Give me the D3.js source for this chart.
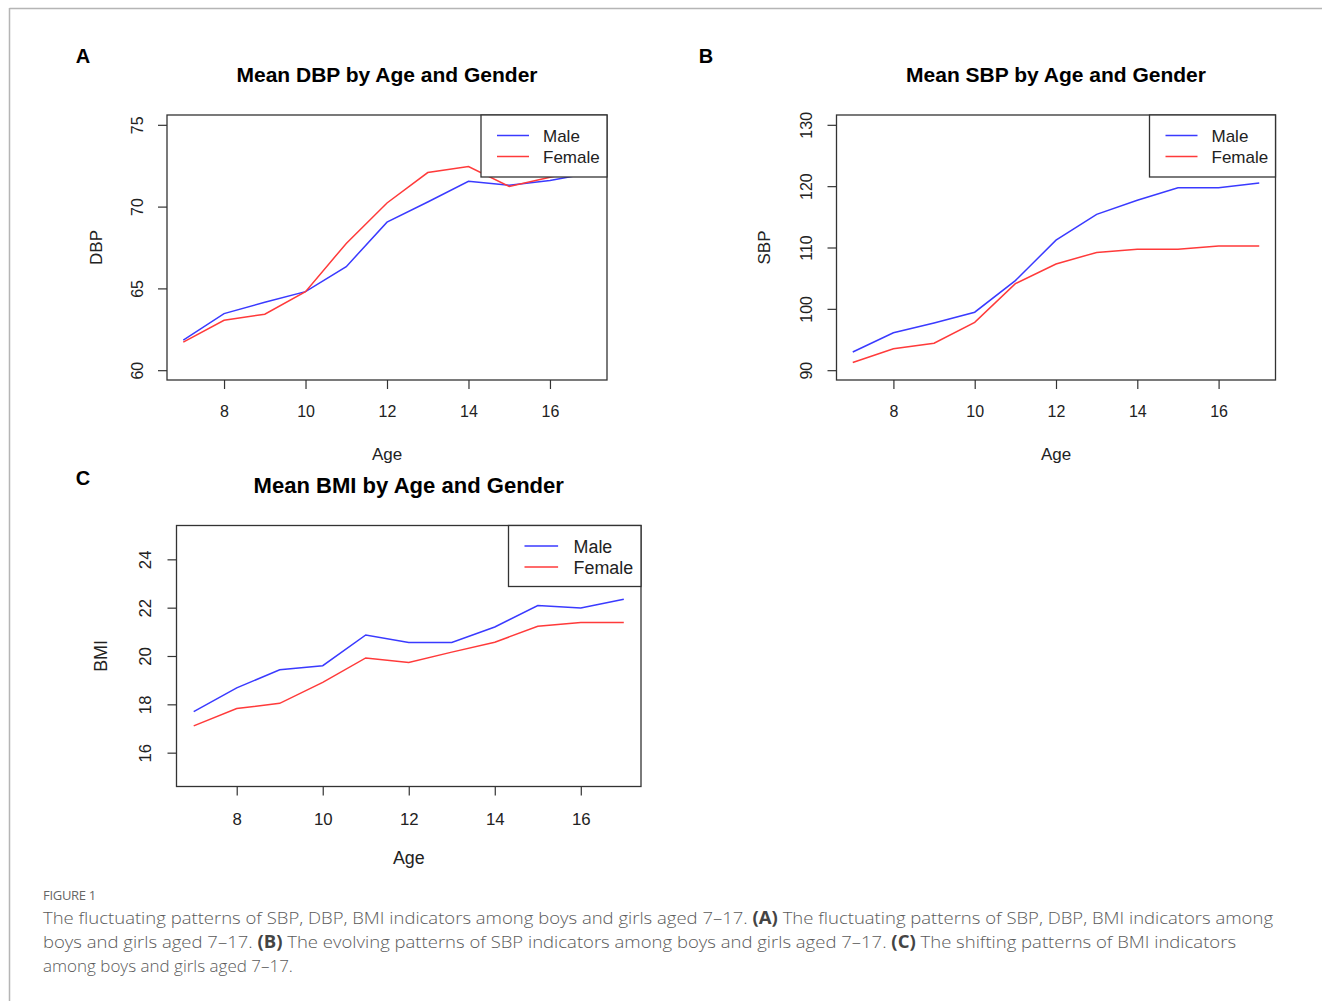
<!DOCTYPE html>
<html><head><meta charset="utf-8">
<script src="https://cdn.jsdelivr.net/npm/d3@7"></script>
<style>
html,body{margin:0;padding:0;background:#fff;}
svg{display:block;}
</style></head>
<body>
<svg id="fig" width="1322" height="1001"></svg>
<script>
// ---------- data ----------
const ages = [7, 8, 9, 10, 11, 12, 13, 14, 15, 16, 17];
const xTicks = [8, 10, 12, 14, 16];

const dbpMale   = [61.84, 63.46, 64.15, 64.80, 66.33, 69.05, 70.28, 71.55, 71.30, 71.60, 72.05];
const dbpFemale = [61.72, 63.05, 63.42, 64.80, 67.75, 70.22, 72.08, 72.45, 71.23, 71.80, 72.30];
const dbpTicks  = [60, 65, 70, 75];

const sbpMale   = [92.97, 96.10, 97.70, 99.45, 104.6, 111.2, 115.4, 117.7, 119.75, 119.75, 120.5];
const sbpFemale = [91.25, 93.50, 94.40, 97.80, 104.1, 107.3, 109.2, 109.7, 109.7, 110.25, 110.25];
const sbpTicks  = [90, 100, 110, 120, 130];

const bmiMale   = [17.70, 18.68, 19.43, 19.60, 20.87, 20.56, 20.56, 21.20, 22.09, 21.99, 22.35];
const bmiFemale = [17.11, 17.83, 18.04, 18.91, 19.92, 19.73, 20.16, 20.57, 21.23, 21.39, 21.39];
const bmiTicks  = [16, 18, 20, 22, 24];

const seriesNames = ["Male", "Female"];
const seriesColors = ["#3a3aff", "#ff3a3a"];

const captionHead = "FIGURE 1";
const captionLines = [
  [["The fluctuating patterns of SBP, DBP, BMI indicators among boys and girls aged 7\u201317. ", false], ["(A)", true], [" The fluctuating patterns of SBP, DBP, BMI indicators among", false]],
  [["boys and girls aged 7\u201317. ", false], ["(B)", true], [" The evolving patterns of SBP indicators among boys and girls aged 7\u201317. ", false], ["(C)", true], [" The shifting patterns of BMI indicators", false]],
  [["among boys and girls aged 7\u201317.", false]]
];

// ---------- drawing ----------
const svg = d3.select("#fig");
const F = "'Liberation Sans', Arial, sans-serif";

// outer frame
svg.append("line").attr("x1", 9.5).attr("x2", 1322).attr("y1", 8.5).attr("y2", 8.5)
  .attr("stroke", "#b5b5b5").attr("stroke-width", 1.5);
svg.append("line").attr("x1", 9.5).attr("x2", 9.5).attr("y1", 8).attr("y2", 1001)
  .attr("stroke", "#b5b5b5").attr("stroke-width", 1.5);

function panel(cfg) {
  const g = svg.append("g");
  const s = cfg.scale || 1;
  const {L, T, R, B} = cfg.box;
  const x = d3.scaleLinear().domain([6.6, 17.4]).range([L, R]);
  const y = d3.scaleLinear().domain(cfg.yDomain).range([B, T]);

  // panel letter
  g.append("text").attr("x", cfg.letterPos[0]).attr("y", cfg.letterPos[1])
    .attr("font-family", F).attr("font-weight", "bold").attr("font-size", 20)
    .attr("text-anchor", "middle").attr("dominant-baseline", "central").text(cfg.letter);
  // title
  g.append("text").attr("x", (L + R) / 2).attr("y", T - cfg.titleOff)
    .attr("font-family", F).attr("font-weight", "bold").attr("font-size", 21 * s)
    .attr("text-anchor", "middle").attr("dominant-baseline", "central").text(cfg.title);

  // lines
  const line = d3.line().x((d, i) => x(ages[i])).y(d => y(d));
  cfg.series.forEach((sr, k) => {
    g.append("path").datum(sr).attr("d", line).attr("fill", "none")
      .attr("stroke", seriesColors[k]).attr("stroke-width", 1.5);
  });

  // axes
  const xa = d3.axisBottom(x).tickValues(xTicks).tickSize(9).tickPadding(17 * s).tickFormat(d3.format("d"));
  const gx = g.append("g").attr("transform", `translate(0,${B})`).call(xa);
  gx.select(".domain").attr("stroke", "none");
  gx.selectAll(".tick line").attr("stroke", "#333").attr("stroke-width", 1.2);
  gx.selectAll(".tick text").attr("font-family", F).attr("font-size", 16 * s).attr("fill", "#222");

  const ya = d3.axisLeft(y).tickValues(cfg.yTicks).tickSize(9).tickFormat(d3.format("d"));
  const gy = g.append("g").attr("transform", `translate(${L},0)`).call(ya);
  gy.select(".domain").attr("stroke", "none");
  gy.selectAll(".tick line").attr("stroke", "#333").attr("stroke-width", 1.2);
  gy.selectAll(".tick text").attr("font-family", F).attr("font-size", 16 * s).attr("fill", "#222")
    .attr("x", null).attr("dy", null)
    .attr("text-anchor", "middle").attr("dominant-baseline", "central")
    .attr("transform", `translate(${-30 * s},0) rotate(-90)`);

  // box
  g.append("rect").attr("x", L).attr("y", T).attr("width", R - L).attr("height", B - T)
    .attr("fill", "none").attr("stroke", "#333").attr("stroke-width", 1.3);

  // axis labels
  g.append("text").attr("x", (L + R) / 2).attr("y", B + cfg.xlabOff)
    .attr("font-family", F).attr("font-size", 17 * s).attr("fill", "#222")
    .attr("text-anchor", "middle").attr("dominant-baseline", "central").text("Age");
  g.append("text").attr("transform", `translate(${L - cfg.ylabOff},${(T + B) / 2}) rotate(-90)`)
    .attr("font-family", F).attr("font-size", 17 * s).attr("fill", "#222")
    .attr("text-anchor", "middle").attr("dominant-baseline", "central").text(cfg.ylab);

  // legend
  const lg = cfg.legend;
  g.append("rect").attr("x", lg.x).attr("y", T).attr("width", R - lg.x).attr("height", lg.h)
    .attr("fill", "#fff").attr("stroke", "#333").attr("stroke-width", 1.3);
  seriesNames.forEach((n, k) => {
    const yy = T + 20.5 + k * 21;
    g.append("line").attr("x1", lg.x + 16).attr("x2", lg.x + 16 + 32 * s).attr("y1", yy).attr("y2", yy)
      .attr("stroke", seriesColors[k]).attr("stroke-width", 1.5);
    g.append("text").attr("x", lg.x + 62 * s).attr("y", yy + 1)
      .attr("font-family", F).attr("font-size", 17 * s).attr("fill", "#222")
      .attr("dominant-baseline", "central").text(n);
  });
}

panel({
  box: {L: 167, T: 115, R: 607, B: 380}, yDomain: [59.4, 75.6], yTicks: dbpTicks,
  series: [dbpMale, dbpFemale], title: "Mean DBP by Age and Gender", titleOff: 41,
  letter: "A", letterPos: [83, 56], ylab: "DBP", ylabOff: 71, xlabOff: 74,
  legend: {x: 481, h: 62}
});
panel({
  box: {L: 836.5, T: 115, R: 1275.5, B: 380}, yDomain: [88.4, 131.6], yTicks: sbpTicks,
  series: [sbpMale, sbpFemale], title: "Mean SBP by Age and Gender", titleOff: 41,
  letter: "B", letterPos: [706, 56], ylab: "SBP", ylabOff: 72, xlabOff: 74,
  legend: {x: 1149.5, h: 62}
});
panel({
  box: {L: 176.5, T: 525.5, R: 641, B: 786.5}, yDomain: [14.6, 25.4], yTicks: bmiTicks,
  series: [bmiMale, bmiFemale], title: "Mean BMI by Age and Gender", titleOff: 40, scale: 1.05,
  letter: "C", letterPos: [83, 478], ylab: "BMI", ylabOff: 76, xlabOff: 71,
  legend: {x: 508.5, h: 61}
});

// caption
const CF = "'Open Sans', 'Noto Sans', sans-serif";
svg.append("text").attr("x", 43).attr("y", 900).attr("font-family", CF).attr("font-size", 13)
  .attr("fill", "#666").attr("letter-spacing", -0.3).text(captionHead);
const widths = [1230, 1193, null];
captionLines.forEach((parts, i) => {
  const t = svg.append("text").attr("x", 43).attr("y", 924 + i * 24)
    .attr("font-family", CF).attr("font-size", 17).attr("fill", "#5a5a5a").attr("font-weight", 300);
  parts.forEach(([str, b]) => {
    t.append("tspan").attr("font-weight", b ? 700 : 300).attr("fill", b ? "#444" : "#5a5a5a").text(str);
  });
  if (widths[i]) t.attr("textLength", widths[i]).attr("lengthAdjust", "spacingAndGlyphs");
});
</script>
</body></html>
